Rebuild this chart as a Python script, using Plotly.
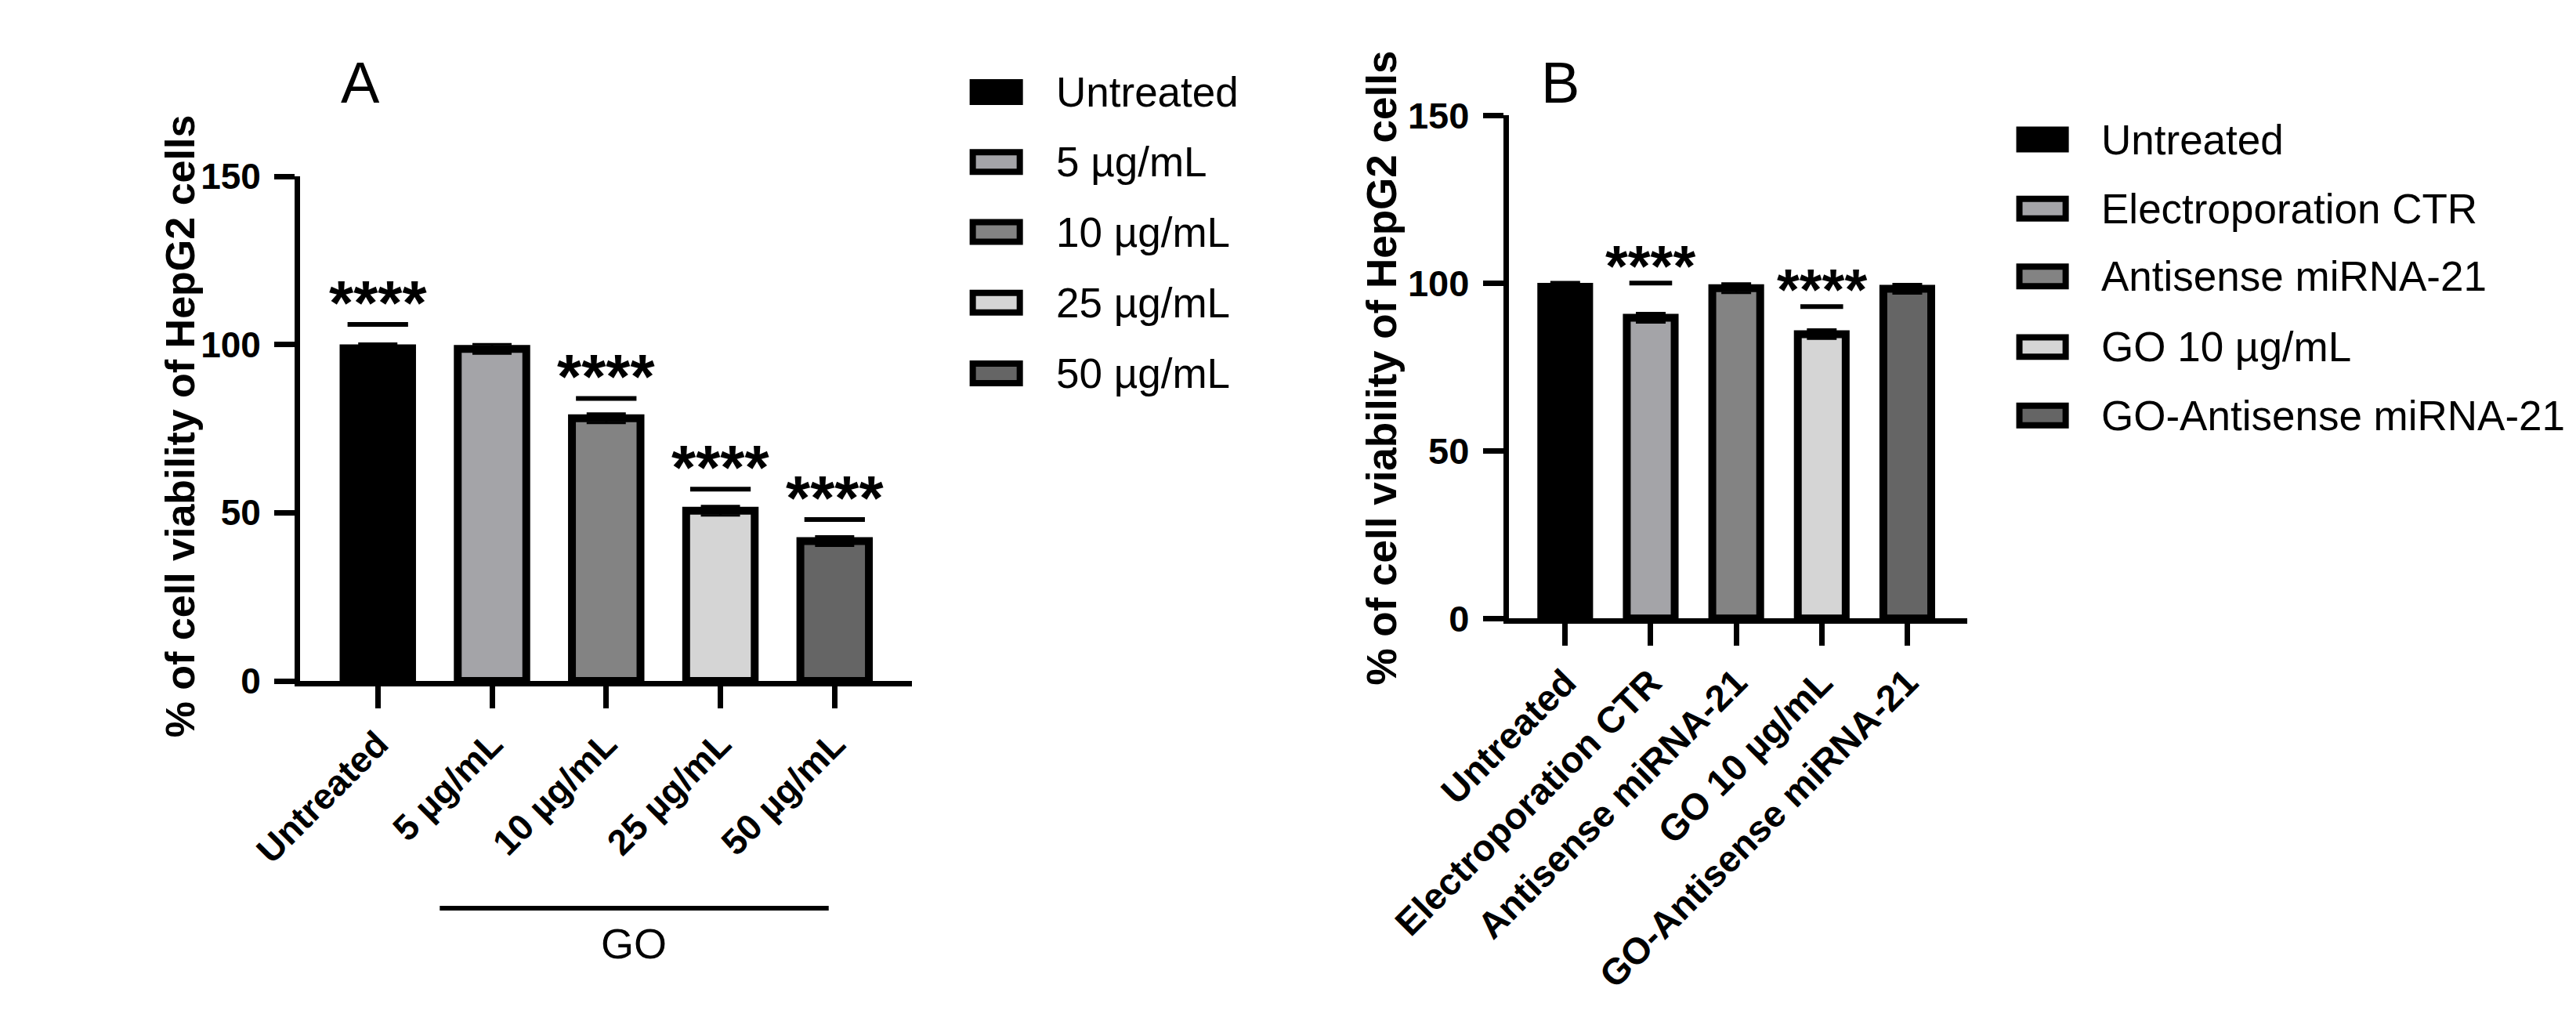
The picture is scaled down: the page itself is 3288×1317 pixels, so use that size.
import plotly.graph_objects as go

W, H = 3288, 1317
FONT = "Arial, 'Liberation Sans', sans-serif"

# ---------------- data ----------------
cats_A = ["Untreated", "5 µg/mL", "10 µg/mL", "25 µg/mL", "50 µg/mL"]
vals_A = [98.9, 98.7, 78.1, 50.6, 41.6]
sem_A = [1.4, 1.4, 1.4, 1.4, 1.4]
colors_A = ["#000000", "#a4a4a8", "#838383", "#d5d5d5", "#656565"]
sig_A_idx = [0, 2, 3, 4]
sig_A_y = [106, 84, 57, 48]
sig_A_text = ["****", "****", "****", "****"]

cats_B = ["Untreated", "Electroporation CTR", "Antisense miRNA-21",
          "GO 10 µg/mL", "GO-Antisense miRNA-21"]
vals_B = [98.9, 89.7, 98.5, 84.8, 98.3]
sem_B = [1.4, 1.4, 1.4, 1.4, 1.4]
colors_B = ["#000000", "#a4a4a8", "#838383", "#d5d5d5", "#656565"]
sig_B_idx = [1, 3]
sig_B_y = [100, 93]
sig_B_text = ["****", "****"]

y_ticks = [0, 50, 100, 150]
y_title = "% of cell viability of HepG2 cells"
group_label = "GO"

# ---------------- figure ----------------
def px(x):
    return x / W

def py(y):
    return 1 - y / H

fig = go.Figure()

idx_A = list(range(len(cats_A)))
idx_B = list(range(len(cats_B)))

fig.add_trace(go.Bar(
    x=idx_A, y=vals_A, width=0.6,
    marker=dict(color=colors_A, line=dict(color="black", width=10)),
    error_y=dict(type="data", array=sem_A, color="black", thickness=3, width=25),
    xaxis="x", yaxis="y", showlegend=False))

fig.add_trace(go.Bar(
    x=idx_B, y=vals_B, width=0.56,
    marker=dict(color=colors_B, line=dict(color="black", width=10)),
    error_y=dict(type="data", array=sem_B, color="black", thickness=3, width=19),
    xaxis="x2", yaxis="y2", showlegend=False))

# significance bars
for i, yv in zip(sig_A_idx, sig_A_y):
    fig.add_trace(go.Scatter(x=[i - 0.265, i + 0.265], y=[yv, yv], mode="lines",
                             line=dict(color="black", width=6),
                             xaxis="x", yaxis="y", showlegend=False, hoverinfo="skip"))
for i, yv in zip(sig_B_idx, sig_B_y):
    fig.add_trace(go.Scatter(x=[i - 0.25, i + 0.25], y=[yv, yv], mode="lines",
                             line=dict(color="black", width=6),
                             xaxis="x2", yaxis="y2", showlegend=False, hoverinfo="skip"))

annotations = []
for i, yv, t in zip(sig_A_idx, sig_A_y, sig_A_text):
    annotations.append(dict(x=i, y=yv, xref="x", yref="y", text=t, showarrow=False,
                            xanchor="center", yanchor="bottom", yshift=-19,
                            font=dict(family=FONT, size=80, color="black", weight="bold")))
for i, yv, t in zip(sig_B_idx, sig_B_y, sig_B_text):
    annotations.append(dict(x=i, y=yv, xref="x2", yref="y2", text=t, showarrow=False,
                            xanchor="center", yanchor="bottom", yshift=-22,
                            font=dict(family=FONT, size=74, color="black", weight="bold")))

def label(x, y, text, size, bold=False, angle=0):
    return dict(x=px(x), y=py(y), xref="paper", yref="paper", text=text, textangle=angle,
                showarrow=False, xanchor="center", yanchor="middle",
                font=dict(family=FONT, size=size, color="black",
                          weight="bold" if bold else "normal"))

# axis titles and panel letters
annotations += [
    label(70, 530, y_title, 52, bold=True, angle=-90),
    label(1680, 453, y_title, 53, bold=True, angle=-90),
    label(312, 73, "A", 74),
    label(1919, 73, "B", 74),
    label(678, 1218, group_label, 54),
]

shapes = [dict(type="line", xref="paper", yref="paper", x0=px(418), x1=px(939),
               y0=py(1171), y1=py(1171), line=dict(color="black", width=6))]

# manual legends
def add_legend(labels, colors, rows, sx0, sx1, tx):
    for lab, col, r in zip(labels, colors, rows):
        shapes.append(dict(type="rect", xref="paper", yref="paper",
                           x0=px(sx0 + 4), x1=px(sx1 - 4), y0=py(r + 13), y1=py(r - 13),
                           fillcolor=col, line=dict(color="black", width=8)))
        annotations.append(dict(x=px(tx), y=py(r), xref="paper", yref="paper", text=lab,
                                showarrow=False, xanchor="left", yanchor="middle",
                                font=dict(family=FONT, size=53, color="black")))

add_legend(cats_A, colors_A, [86, 179, 272, 366, 460], 1128, 1199, 1242)
add_legend(cats_B, colors_B, [149, 241, 331, 425, 516], 2530, 2600, 2642)

axis_common = dict(showline=True, linecolor="black", linewidth=7, ticks="outside",
                   tickwidth=7, tickcolor="black", showgrid=False, zeroline=False,
                   fixedrange=True)

fig.update_layout(
    width=W, height=H, margin=dict(l=0, r=0, t=0, b=0),
    paper_bgcolor="white", plot_bgcolor="white",
    font=dict(family=FONT, color="black"),
    xaxis=dict(domain=[px(231), px(1051)], range=[-0.68, 4.68], tickvals=idx_A,
               ticktext=cats_A, tickangle=-45, ticklen=28, anchor="y",
               tickfont=dict(family=FONT, size=46, color="black", weight="bold"),
               **axis_common),
    yaxis=dict(domain=[py(869), py(198)], range=[0, 150], tickvals=y_ticks, ticklen=26,
               anchor="x", ticklabelstandoff=8,
               tickfont=dict(family=FONT, size=46, color="black", weight="bold"),
               **axis_common),
    xaxis2=dict(domain=[px(1850), px(2464)], range=[-0.66, 4.7], tickvals=idx_B,
                ticktext=cats_B, tickangle=-45, ticklen=28, anchor="y2",
                tickfont=dict(family=FONT, size=47, color="black", weight="bold"),
                **axis_common),
    yaxis2=dict(domain=[py(786), py(117)], range=[0, 150], tickvals=y_ticks, ticklen=26,
                anchor="x2", ticklabelstandoff=8,
                tickfont=dict(family=FONT, size=47, color="black", weight="bold"),
                **axis_common),
    annotations=annotations,
    shapes=shapes,
)

fig.write_html("out.html")
